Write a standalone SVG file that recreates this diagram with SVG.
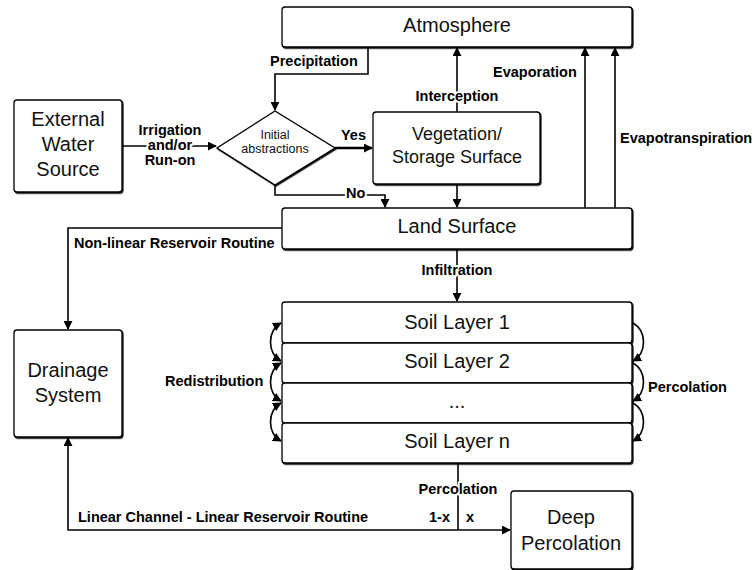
<svg xmlns="http://www.w3.org/2000/svg" width="755" height="570" viewBox="0 0 755 570">
<style>
.box{fill:#fff;stroke:#000;stroke-width:1.3;filter:url(#sh)}
.t{font-family:"Liberation Sans",Arial,sans-serif;font-size:20px;fill:#111;text-anchor:middle}
.ts{font-family:"Liberation Sans",Arial,sans-serif;font-size:18px;fill:#111;text-anchor:middle}
.tm{font-family:"Liberation Sans",Arial,sans-serif;font-size:12.5px;fill:#111;text-anchor:middle}
.lb{font-family:"Liberation Sans",Arial,sans-serif;font-size:14.5px;font-weight:bold;fill:#000;stroke:#fff;stroke-width:4;paint-order:stroke;stroke-linejoin:round}
.c{fill:none;stroke:#000;stroke-width:1.6}
.ca{fill:none;stroke:#000;stroke-width:1.6;marker-end:url(#ah)}
.cb{fill:none;stroke:#000;stroke-width:1.6;marker-start:url(#ah);marker-end:url(#ah)}
</style>
<defs>
<filter id="sh" x="-5%" y="-5%" width="110%" height="115%">
<feDropShadow dx="1" dy="1.2" stdDeviation="0.3" flood-color="#000" flood-opacity="0.9"/>
</filter>
<marker id="ah" viewBox="0 0 10 10" refX="9" refY="5" markerWidth="9" markerHeight="9" markerUnits="userSpaceOnUse" orient="auto-start-reverse">
<path d="M0,0 L10,5 L0,10 z" fill="#000"/>
</marker>
</defs>

<g id="connectors">
<path id="precip" class="ca" d="M368,47 V74 H275 V110"/>
<path id="irrig" class="ca" d="M122,146 H216"/>
<path id="yes" class="ca" d="M335,148 H372" style="stroke-width:2.4"/>
<path id="no" class="ca" d="M275,185 V195 H385 V207"/>
<path id="veg-land" class="ca" d="M457,184 V207"/>
<path id="interception" class="ca" d="M457,112 V48"/>
<path id="evaporation" class="ca" d="M585,208 V48"/>
<path id="evapotrans" class="ca" d="M615,208 V48"/>
<path id="nonlinear" class="ca" d="M282,228 H68 V329"/>
<path id="infiltration" class="ca" d="M457,249 V301"/>
<path id="redis1" class="cb" d="M281,323 C267,331 267,353 281,361"/>
<path id="redis2" class="cb" d="M281,363 C267,371 267,393 281,401"/>
<path id="redis3" class="cb" d="M281,403 C267,411 267,433 281,441"/>
<path id="perc1" class="ca" d="M633,323 C647,331 647,353 633,361"/>
<path id="perc2" class="ca" d="M633,363 C647,371 647,393 633,401"/>
<path id="perc3" class="ca" d="M633,403 C647,411 647,433 633,441"/>
<path id="perc-bottom" class="c" d="M458,463 V530"/>
<path id="deep" class="ca" d="M458,530 H510"/>
<path id="linear" class="ca" d="M458,530 H68 V438"/>
<text class="lb" x="270" y="66">Precipitation</text>
<text class="lb" x="170" y="135" text-anchor="middle">Irrigation</text>
<text class="lb" x="170" y="150" text-anchor="middle">and/or</text>
<text class="lb" x="170" y="165" text-anchor="middle">Run-on</text>
<text class="lb" x="341" y="140">Yes</text>
<text class="lb" x="346" y="198">No</text>
<text class="lb" x="457" y="101" text-anchor="middle">Interception</text>
<text class="lb" x="493" y="77">Evaporation</text>
<text class="lb" x="620" y="143">Evapotranspiration</text>
<text class="lb" x="74" y="248">Non-linear Reservoir Routine</text>
<text class="lb" x="457" y="275" text-anchor="middle">Infiltration</text>
<text class="lb" x="165" y="386">Redistribution</text>
<text class="lb" x="648" y="392">Percolation</text>
<text class="lb" x="458" y="494" text-anchor="middle">Percolation</text>
<text class="lb" x="450" y="522" text-anchor="end" style="stroke:none">1-x</text>
<text class="lb" x="466" y="522" style="stroke:none">x</text>
<text class="lb" x="78" y="522">Linear Channel - Linear Reservoir Routine</text>
</g>

<g id="atmosphere">
<rect class="box" x="282" y="7" width="350" height="40" rx="3"/>
<text class="t" x="457" y="32">Atmosphere</text>
</g>
<g id="external">
<rect class="box" x="14" y="100" width="108" height="92" rx="3"/>
<text class="t" x="68" y="126">External</text>
<text class="t" x="68" y="151">Water</text>
<text class="t" x="68" y="176">Source</text>
</g>
<g id="initial">
<polygon class="box" points="275,111 335,148 275,185 217,148"/>
<text class="tm" x="275" y="139">Initial</text>
<text class="tm" x="275" y="153">abstractions</text>
</g>
<g id="vegetation">
<rect class="box" x="373" y="112" width="167" height="72" rx="3"/>
<text class="ts" x="457" y="140">Vegetation/</text>
<text class="ts" x="457" y="163">Storage Surface</text>
</g>
<g id="land">
<rect class="box" x="282" y="208" width="350" height="41" rx="3"/>
<text class="t" x="457" y="233">Land Surface</text>
</g>
<g id="soil1">
<rect class="box" x="282" y="302" width="350" height="41" rx="3"/>
<text class="t" x="457" y="329">Soil Layer 1</text>
</g>
<g id="soil2">
<rect class="box" x="282" y="343" width="350" height="40" rx="3"/>
<text class="t" x="457" y="368">Soil Layer 2</text>
</g>
<g id="soildots">
<rect class="box" x="282" y="383" width="350" height="40" rx="3"/>
<text class="t" x="457" y="408">...</text>
</g>
<g id="soiln">
<rect class="box" x="282" y="423" width="350" height="40" rx="3"/>
<text class="t" x="457" y="448">Soil Layer n</text>
</g>
<g id="drainage">
<rect class="box" x="14" y="330" width="108" height="107" rx="3"/>
<text class="t" x="68" y="377">Drainage</text>
<text class="t" x="68" y="402">System</text>
</g>
<g id="deepperc">
<rect class="box" x="511" y="491" width="121" height="78" rx="3"/>
<text class="t" x="571" y="524">Deep</text>
<text class="t" x="571" y="550">Percolation</text>
</g>
</svg>
